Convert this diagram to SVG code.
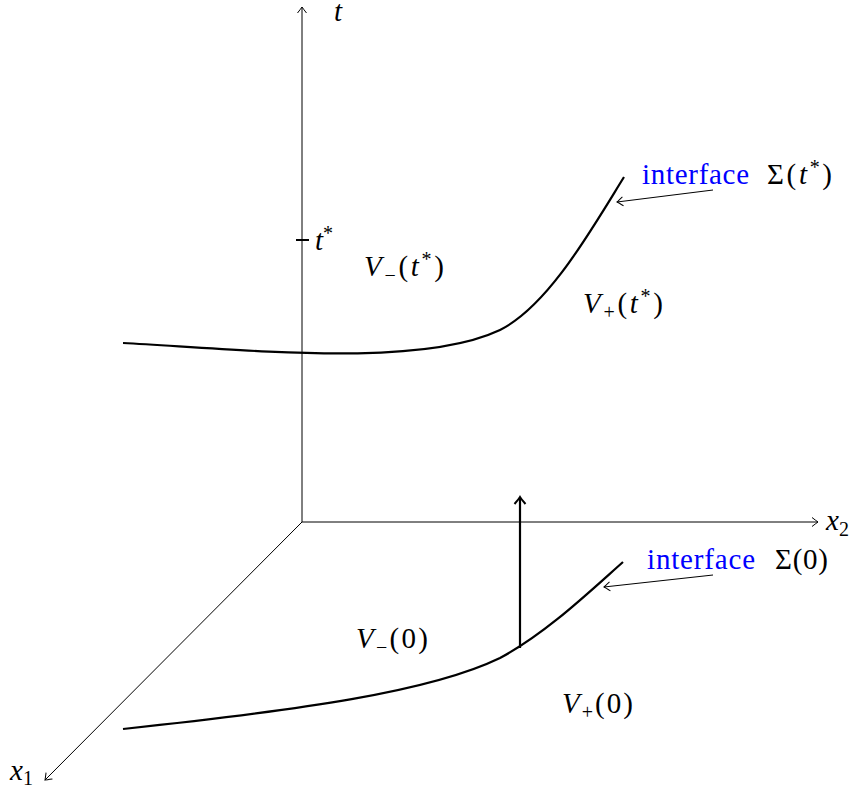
<svg xmlns="http://www.w3.org/2000/svg" width="858" height="793" viewBox="0 0 858 793">
<style>
.ax{fill:none;stroke:#000;stroke-width:1}
.cv{fill:none;stroke:#000;stroke-width:2.2}
.lbl{font-size:29px;fill:#000}
.it{font-style:italic}
.blue{fill:#0000ff}
</style>
<defs>
<marker id="ah" markerUnits="userSpaceOnUse" markerWidth="14" markerHeight="14" viewBox="-8 -7 10 14" refX="0" refY="0" orient="auto">
<path d="M-6,-4.5 Q-1.5,-1 0,0 Q-1.5,1 -6,4.5" fill="none" stroke="#000" stroke-width="1"/>
</marker>
<marker id="ahb" markerUnits="userSpaceOnUse" markerWidth="16" markerHeight="16" viewBox="-9 -8 11 16" refX="0" refY="0" orient="auto">
<path d="M-7,-5.5 Q-2,-1.2 0,0 Q-2,1.2 -7,5.5" fill="none" stroke="#000" stroke-width="2"/>
</marker>
</defs>
<g id="connectors">
<line class="ax" x1="302" y1="522" x2="302" y2="7" marker-end="url(#ah)"/>
<line class="ax" x1="302" y1="522" x2="818" y2="522" marker-end="url(#ah)"/>
<line class="ax" x1="302" y1="522" x2="45" y2="780" marker-end="url(#ah)"/>
<line x1="296" y1="240" x2="309" y2="240" stroke="#000" stroke-width="2"/>
<line x1="520" y1="648" x2="520" y2="497" stroke="#000" stroke-width="2.2" marker-end="url(#ahb)"/>
<line class="ax" x1="713" y1="190" x2="617" y2="202" marker-end="url(#ah)"/>
<line class="ax" x1="713" y1="575" x2="604" y2="587" marker-end="url(#ah)"/>
</g>
<g id="curve-top">
<path class="cv" d="M123,343 C250,350 420,368 500,330 C548,306 590,232 624,177"/>
</g>
<g id="curve-bottom">
<path class="cv" d="M123,729 C300,710 430,692 500,658 C545,634 587,594 623,562"/>
</g>
<g id="labels" font-family="'Liberation Serif', 'Times New Roman', 'DejaVu Serif', serif">
<text class="lbl it" x="334" y="21">t</text>
<text class="lbl" x="315" y="250"><tspan class="it">t</tspan><tspan font-size="20" dy="-10">*</tspan></text>
<text class="lbl" x="364" y="276" textLength="80"><tspan class="it">V</tspan><tspan font-size="20" dy="6">−</tspan><tspan dy="-6">(</tspan><tspan class="it">t</tspan><tspan font-size="20" dy="-10">*</tspan><tspan dy="10">)</tspan></text>
<text class="lbl" x="583" y="313" textLength="80"><tspan class="it">V</tspan><tspan font-size="20" dy="6">+</tspan><tspan dy="-6">(</tspan><tspan class="it">t</tspan><tspan font-size="20" dy="-10">*</tspan><tspan dy="10">)</tspan></text>
<text class="lbl" x="356" y="648" textLength="72"><tspan class="it">V</tspan><tspan font-size="20" dy="6">−</tspan><tspan dy="-6">(0)</tspan></text>
<text class="lbl" x="562" y="713" textLength="71"><tspan class="it">V</tspan><tspan font-size="20" dy="6">+</tspan><tspan dy="-6">(0)</tspan></text>
<text class="lbl blue" x="642" y="184" textLength="107">interface</text>
<text class="lbl" x="767" y="184" textLength="65"><tspan>Σ(</tspan><tspan class="it">t</tspan><tspan font-size="20" dy="-10">*</tspan><tspan dy="10">)</tspan></text>
<text class="lbl blue" x="647" y="569" textLength="108">interface</text>
<text class="lbl" x="775" y="569" textLength="53">Σ(0)</text>
<text class="lbl" x="826" y="530"><tspan class="it">x</tspan><tspan font-size="20" dy="6">2</tspan></text>
<text class="lbl" x="10" y="780"><tspan class="it">x</tspan><tspan font-size="20" dy="5">1</tspan></text>
</g>
</svg>
